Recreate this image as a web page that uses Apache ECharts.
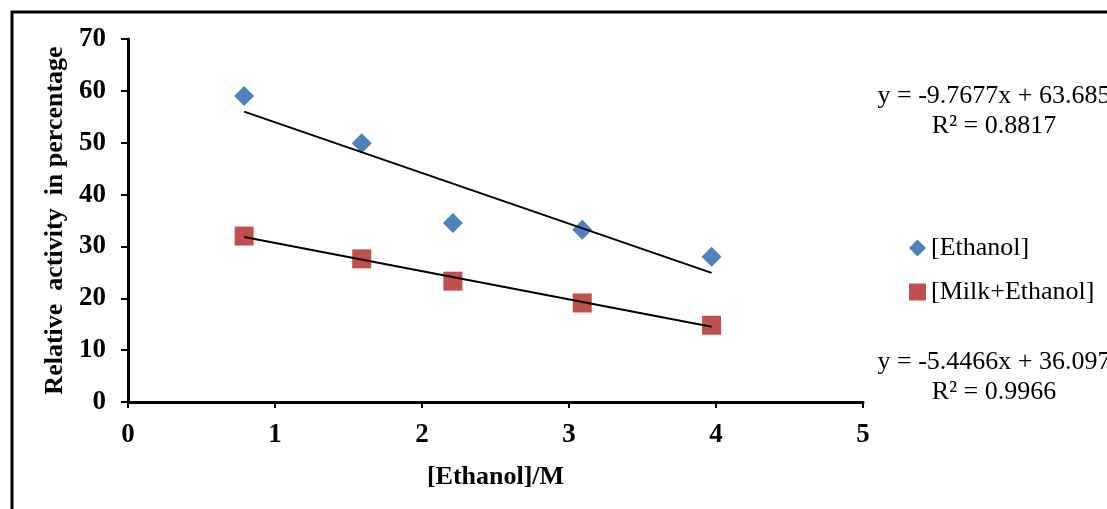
<!DOCTYPE html>
<html>
<head>
<meta charset="utf-8">
<script src="https://cdn.jsdelivr.net/npm/echarts@6/dist/echarts.min.js"></script>
<style>
  html, body { margin: 0; padding: 0; background: #fff; }
  #chart { width: 1107px; height: 509px; }
</style>
</head>
<body>
<div id="chart"></div>
<script>
// values
const ethanolConc = [0.79, 1.59, 2.21, 3.09, 3.97];
const ethanolActivity = [59.0, 49.9, 34.5, 33.2, 28.0];
const milkEthanolActivity = [32.0, 27.6, 23.3, 19.1, 14.8];
// trendline end points (at first and last concentration)
const ethanolTrend = [[0.79, 56.0], [3.97, 24.9]];
const milkEthanolTrend = [[0.79, 31.8], [3.97, 14.5]];
const seriesNames = ['[Ethanol]', '[Milk+Ethanol]'];
const equations = [
  'y = -9.7677x + 63.685\nR² = 0.8817',
  'y = -5.4466x + 36.097\nR² = 0.9966'
];

const serif = '"Liberation Serif", "Times New Roman", serif';
const chart = echarts.init(document.getElementById('chart'));

const toPairs = (xs, ys) => xs.map((x, i) => [x, ys[i]]);

const option = {
  animation: false,
  backgroundColor: '#fff',
  grid: { left: 128, right: 244, top: 39, bottom: 107 },
  legend: {
    data: seriesNames,
    orient: 'vertical',
    left: 904,
    top: 228,
    itemWidth: 17,
    itemHeight: 17,
    itemGap: 14,
    textStyle: { fontFamily: serif, fontSize: 26, color: '#000', lineHeight: 30 }
  },
  xAxis: {
    type: 'value',
    min: 0,
    max: 5,
    interval: 1,
    name: '[Ethanol]/M',
    nameLocation: 'middle',
    nameGap: 62,
    nameTextStyle: { fontFamily: serif, fontSize: 26, fontWeight: 'bold', color: '#000' },
    axisLine: { onZero: false, lineStyle: { color: '#000', width: 3 } },
    axisTick: { show: true, length: 6, lineStyle: { color: '#000', width: 2 } },
    axisLabel: { fontFamily: serif, fontSize: 27, fontWeight: 'bold', color: '#000', margin: 20 },
    splitLine: { show: false }
  },
  yAxis: {
    type: 'value',
    min: 0,
    max: 70,
    interval: 10,
    name: 'Relative  activity  in percentage',
    nameLocation: 'middle',
    nameGap: 50,
    nameTextStyle: { fontFamily: serif, fontSize: 26, fontWeight: 'bold', color: '#000' },
    axisLine: { show: true, lineStyle: { color: '#000', width: 3 } },
    axisTick: { show: true, length: 7, lineStyle: { color: '#000', width: 2 } },
    axisLabel: { fontFamily: serif, fontSize: 27, fontWeight: 'bold', color: '#000', margin: 22 },
    splitLine: { show: false }
  },
  series: [
    {
      name: seriesNames[0],
      type: 'scatter',
      symbol: 'diamond',
      symbolSize: 20,
      itemStyle: { color: '#4F81BD', opacity: 1 },
      data: toPairs(ethanolConc, ethanolActivity),
      z: 3
    },
    {
      name: seriesNames[1],
      type: 'scatter',
      symbol: 'rect',
      symbolSize: 19,
      itemStyle: { color: '#C0504D', opacity: 1 },
      data: toPairs(ethanolConc, milkEthanolActivity),
      z: 3
    },
    {
      name: 'trend1',
      type: 'line',
      showSymbol: false,
      symbol: 'none',
      lineStyle: { color: '#000', width: 2 },
      data: ethanolTrend,
      z: 4
    },
    {
      name: 'trend2',
      type: 'line',
      showSymbol: false,
      symbol: 'none',
      lineStyle: { color: '#000', width: 2 },
      data: milkEthanolTrend,
      z: 4
    }
  ],
  graphic: [
    {
      type: 'polyline',
      shape: { points: [[12, 509], [12, 12], [1107, 12]] },
      style: { stroke: '#000', lineWidth: 3, fill: null }
    },
    {
      type: 'text',
      x: 994,
      y: 81,
      style: {
        text: equations[0],
        fontFamily: serif,
        fontSize: 26,
        lineHeight: 30,
        fill: '#000',
        align: 'center'
      }
    },
    {
      type: 'text',
      x: 994,
      y: 347,
      style: {
        text: equations[1],
        fontFamily: serif,
        fontSize: 26,
        lineHeight: 30,
        fill: '#000',
        align: 'center'
      }
    }
  ]
};

chart.setOption(option);
</script>
</body>
</html>
